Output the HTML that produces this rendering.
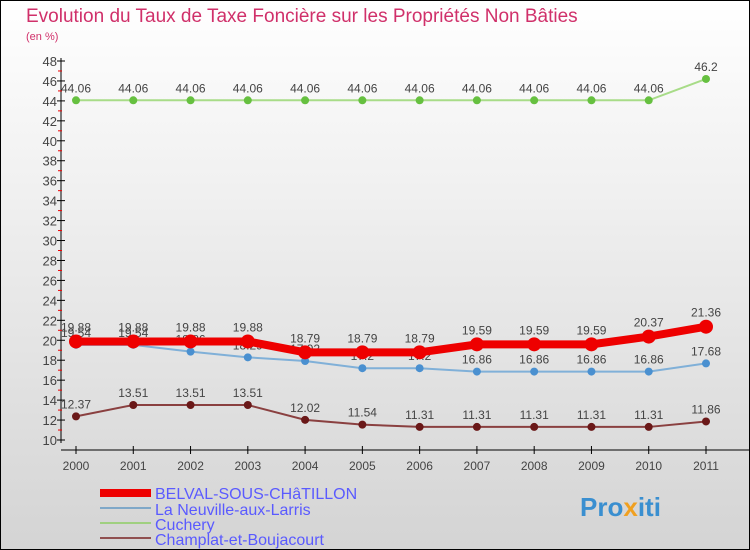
<!DOCTYPE html>
<html><head><meta charset="utf-8"><style>
body{margin:0;width:750px;height:550px;overflow:hidden}
svg{display:block;font-family:"Liberation Sans",sans-serif}
</style></head><body>
<svg width="750" height="550">
<defs><linearGradient id="bg" x1="0" y1="0" x2="0" y2="1"><stop offset="0" stop-color="#ffffff"/><stop offset="1" stop-color="#d4d4d4"/></linearGradient></defs>
<rect x="0.5" y="0.5" width="749" height="549" fill="url(#bg)" stroke="#000"/>
<text x="26" y="22" font-size="19" fill="#d0306a">Evolution du Taux de Taxe Foncière sur les Propriétés Non Bâties</text>
<text x="26" y="40" font-size="11" fill="#d0306a">(en %)</text>
<g id="axes"></g><g id="series"></g>
<g>
<rect x="100" y="489" width="51" height="8" fill="#ee0000"/>
<line x1="100" y1="508" x2="151" y2="508" stroke="#7fa8c8" stroke-width="2"/>
<line x1="100" y1="523" x2="151" y2="523" stroke="#a0d080" stroke-width="2"/>
<line x1="100" y1="538" x2="151" y2="538" stroke="#905050" stroke-width="2"/>
<g font-size="16" fill="#5a5aff">
<text x="155" y="499">BELVAL-SOUS-CHâTILLON</text>
<text x="155" y="515">La Neuville-aux-Larris</text>
<text x="155" y="530">Cuchery</text>
<text x="155" y="545">Champlat-et-Boujacourt</text>
</g></g>
<text x="580" y="516" font-size="26" font-weight="bold" fill="#3a8fd0">Pro<tspan fill="#f0a020">x</tspan>iti</text>
</svg>
<script>
const years=["2000","2001","2002","2003","2004","2005","2006","2007","2008","2009","2010","2011"];
const belval=[19.88,19.88,19.88,19.88,18.79,18.79,18.79,19.59,19.59,19.59,20.37,21.36];
const neuville=[19.54,19.54,18.86,18.29,17.92,17.2,17.2,16.86,16.86,16.86,16.86,17.68];
const cuchery=[44.06,44.06,44.06,44.06,44.06,44.06,44.06,44.06,44.06,44.06,44.06,46.2];
const champlat=[12.37,13.51,13.51,13.51,12.02,11.54,11.31,11.31,11.31,11.31,11.31,11.86];
const yTicks=[10,12,14,16,18,20,22,24,26,28,30,32,34,36,38,40,42,44,46,48];
const NS="http://www.w3.org/2000/svg";
const xs=i=>76+i*(706-76)/11;
const ys=v=>440-(v-10)*(440-61)/38;
function mk(t,a,p){const e=document.createElementNS(NS,t);for(const k in a)e.setAttribute(k,a[k]);p.appendChild(e);return e;}
const ax=document.getElementById('axes');
let l=mk('line',{x1:61,y1:58,x2:61,y2:443,stroke:'#000'},ax);


l=mk('line',{x1:61,y1:450,x2:750,y2:450,stroke:'#000'},ax);


yTicks.forEach(v=>{const y=ys(v);mk('line',{x1:57,y1:y,x2:65,y2:y,stroke:'#000'},ax);
 if(v<48)mk('line',{x1:58,y1:ys(v+1),x2:62,y2:ys(v+1),stroke:'#e00'},ax);
 const t=mk('text',{x:57,y:y+5,'text-anchor':'end','font-size':13,fill:'#444'},ax);t.textContent=v;
 
 });
years.forEach((yr,i)=>{const x=xs(i);mk('line',{x1:x,y1:446,x2:x,y2:454,stroke:'#000'},ax);
 const t=mk('text',{x:x,y:470,'text-anchor':'middle','font-size':12,fill:'#444'},ax);t.textContent=yr;
 
 });
const sg=document.getElementById('series');
function draw(name,vals,col,dot,w,r,dy){const g=mk('g',{},sg);
 
 
 mk('polyline',{points:vals.map((v,i)=>xs(i)+','+ys(v)).join(' '),fill:'none',stroke:col,'stroke-width':w},g);
 vals.forEach((v,i)=>{const c=mk('circle',{cx:xs(i),cy:ys(v),r:r,fill:dot},g);
  
  
  const t=mk('text',{x:xs(i),y:ys(v)+dy,'text-anchor':'middle','font-size':12,fill:'#444'},g);t.textContent=String(v).replace('.','.');
  
  });}
draw('series-cuchery',cuchery,'#a8dc88','#66c040',2,4,-8);
draw('series-champlat',champlat,'#8a4040','#6a1818',2,4,-8);
draw('series-neuville',neuville,'#80b0d8','#4a90d0',2,4,-8);
draw('series-belval',belval,'#ee0000','#ee0000',8,7,-10);
</script>
</body></html>
